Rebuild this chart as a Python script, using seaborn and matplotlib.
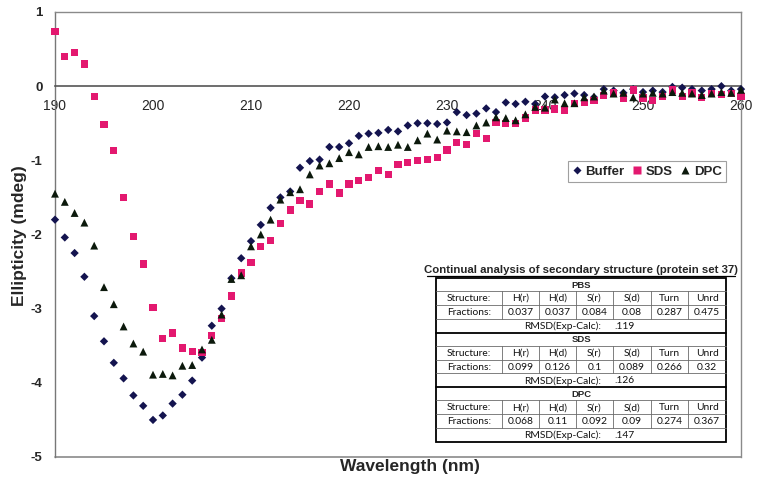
import numpy as np
import pandas as pd
import matplotlib
matplotlib.use("Agg")
import matplotlib.pyplot as plt
import seaborn as sns
from matplotlib.lines import Line2D

# -----------------------------
# DATA
# -----------------------------
wavelength = list(range(190, 261))

buffer_vals = [
    -1.80, -2.04, -2.25, -2.57, -3.10, -3.44, -3.73, -3.94, -4.17, -4.31,
    -4.50, -4.44, -4.28, -4.16, -3.97, -3.66, -3.23, -3.00, -2.59, -2.32,
    -2.09, -1.87, -1.64, -1.50, -1.42, -1.10, -1.01, -0.99, -0.82, -0.82,
    -0.77, -0.67, -0.64, -0.63, -0.59, -0.61, -0.53, -0.50, -0.50, -0.51,
    -0.49, -0.35, -0.39, -0.37, -0.30, -0.35, -0.22, -0.24, -0.21, -0.24,
    -0.14, -0.15, -0.12, -0.10, -0.12, -0.15, -0.04, -0.06, -0.09, -0.04,
    -0.08, -0.06, -0.08, -0.01, -0.02, -0.04, -0.06, -0.04, 0.00, -0.06,
    -0.04,
]

sds_vals = [
    0.74, 0.40, 0.45, 0.30, -0.14, -0.52, -0.87, -1.50, -2.03, -2.40,
    -2.98, -3.40, -3.33, -3.53, -3.58, -3.59, -3.36, -3.13, -2.83, -2.52,
    -2.38, -2.16, -2.08, -1.85, -1.67, -1.54, -1.59, -1.42, -1.32, -1.44,
    -1.32, -1.27, -1.23, -1.14, -1.19, -1.06, -1.03, -1.00, -0.99, -0.96,
    -0.86, -0.76, -0.79, -0.64, -0.71, -0.49, -0.50, -0.50, -0.43, -0.32,
    -0.32, -0.31, -0.33, -0.23, -0.22, -0.19, -0.13, -0.09, -0.16, -0.05,
    -0.16, -0.19, -0.14, -0.05, -0.14, -0.09, -0.15, -0.10, -0.11, -0.10,
    -0.14,
]

dpc_vals = [
    -1.45, -1.56, -1.71, -1.84, -2.15, -2.71, -2.94, -3.24, -3.47, -3.58,
    -3.89, -3.88, -3.90, -3.77, -3.76, -3.55, -3.42, -3.08, -2.60, -2.55,
    -2.16, -2.00, -1.80, -1.53, -1.43, -1.39, -1.19, -1.07, -1.04, -0.97,
    -0.89, -0.92, -0.82, -0.81, -0.82, -0.79, -0.82, -0.73, -0.64, -0.72,
    -0.60, -0.61, -0.62, -0.53, -0.49, -0.42, -0.43, -0.46, -0.38, -0.28,
    -0.29, -0.18, -0.23, -0.23, -0.15, -0.14, -0.06, -0.10, -0.09, -0.15,
    -0.10, -0.09, -0.10, -0.08, -0.09, -0.10, -0.12, -0.10, -0.08, -0.09,
    -0.05,
]

x_ticks = [190, 200, 210, 220, 230, 240, 250, 260]
y_ticks = [1, 0, -1, -2, -3, -4, -5]

# table content
table_title = "Continual analysis of secondary structure (protein set 37)"
samples = ["PBS", "SDS", "DPC"]
structures = ["H(r)", "H(d)", "S(r)", "S(d)", "Turn", "Unrd"]
pbs_fractions = ["0.037", "0.037", "0.084", "0.08", "0.287", "0.475"]
sds_fractions = ["0.099", "0.126", "0.1", "0.089", "0.266", "0.32"]
dpc_fractions = ["0.068", "0.11", "0.092", "0.09", "0.274", "0.367"]
rmsd_vals = [".119", ".126", ".147"]

# -----------------------------
# STYLE
# -----------------------------
sns.set_style("white")
plt.rcParams["font.family"] = ["Liberation Sans", "DejaVu Sans"]

W, H = 757, 492
fig = plt.figure(figsize=(W / 100, H / 100), dpi=100)
ax = fig.add_axes([55 / W, 1 - 457 / H, 686 / W, 445 / H])

df = pd.DataFrame({
    "Wavelength": wavelength * 3,
    "Ellipticity": buffer_vals + sds_vals + dpc_vals,
    "Sample": ["Buffer"] * len(wavelength) + ["SDS"] * len(wavelength) + ["DPC"] * len(wavelength),
})

palette = {"Buffer": "#14144f", "SDS": "#e3186f", "DPC": "#0c190c"}
markers = {"Buffer": "D", "SDS": "s", "DPC": "^"}
sizes = {"Buffer": 18, "SDS": 28, "DPC": 32}

for name in ["Buffer", "SDS", "DPC"]:
    sub = df[df["Sample"] == name]
    sns.scatterplot(data=sub, x="Wavelength", y="Ellipticity", ax=ax,
                    color=palette[name], marker=markers[name], s=sizes[name],
                    edgecolor="none", linewidth=0, legend=False, zorder=3,
                    clip_on=False)

ax.set_xlim(190, 260)
ax.set_ylim(-5, 1)
ax.set_xticks(x_ticks)
ax.set_yticks(y_ticks)
ax.set_xticklabels([str(v) for v in x_ticks], fontsize=9.5, fontweight="bold")
ax.set_yticklabels([str(v) for v in y_ticks], fontsize=9.5, fontweight="bold")

# plot area border + axis at zero
for side in ["top", "right", "left"]:
    ax.spines[side].set_color("#8a8a8a")
    ax.spines[side].set_linewidth(1.0)
ax.spines["left"].set_color("#777777")
ax.spines["bottom"].set_position(("data", 0))
ax.spines["bottom"].set_color("#555555")
ax.spines["bottom"].set_linewidth(1.2)
ax.axhline(-5, color="#8a8a8a", lw=1.2, zorder=1, clip_on=False)
ax.tick_params(axis="x", direction="out", length=3, width=0.8, color="#777777", pad=6)
ax.tick_params(axis="y", direction="out", length=4, width=0.8, color="#777777", pad=5)

ax.set_xlabel("")
ax.set_ylabel("")
fig.text(410 / W, 1 - 467 / H, "Wavelength (nm)", fontsize=12.5, fontweight="bold",
         ha="center", va="center")
fig.text(20 / W, 1 - 236 / H, "Ellipticity (mdeg)", fontsize=12.5, fontweight="bold",
         ha="center", va="center", rotation=90)

# legend
handles = [Line2D([0], [0], marker=markers[n], color="none", markerfacecolor=palette[n],
                  markeredgecolor="none", markersize={"Buffer": 4.5, "SDS": 5.5, "DPC": 6}[n])
           for n in ["Buffer", "SDS", "DPC"]]
leg = fig.legend(handles, ["Buffer", "SDS", "DPC"], ncol=3,
                 loc="center", bbox_to_anchor=(647 / W, 1 - 171.5 / H),
                 prop={"weight": "bold", "size": 9.5}, frameon=True, fancybox=False,
                 handlelength=0.7, handletextpad=0.3, columnspacing=0.6,
                 borderpad=0.3, borderaxespad=0)
leg.get_frame().set_edgecolor("#888888")
leg.get_frame().set_linewidth(0.8)

# -----------------------------
# TABLE (drawn in pixel coordinates)
# -----------------------------
def fx(x):
    return x / W


def fy(y):
    return 1 - y / H


def hline(x0, x1, y, lw=0.6, color="#6a6a6a"):
    fig.add_artist(Line2D([fx(x0), fx(x1)], [fy(y), fy(y)], lw=lw, color=color,
                          transform=fig.transFigure, zorder=7))


def vline(x, y0, y1, lw=0.6, color="#6a6a6a"):
    fig.add_artist(Line2D([fx(x), fx(x)], [fy(y0), fy(y1)], lw=lw, color=color,
                          transform=fig.transFigure, zorder=7))


cell_font = ["Lato", "DejaVu Sans"]
cell_size = 7.4
t_left, t_right, t_top, t_bottom = 436, 726, 278, 442
cols = [436, 501.7, 539, 576, 613, 650.7, 688.3, 726]

fig.text(fx(581), fy(270), table_title, fontsize=8.2, fontweight="bold",
         ha="center", va="center")
hline(427, 735, 276, lw=0.9, color="black")

fig.patches.append(plt.Rectangle((fx(t_left), fy(t_bottom)), fx(t_right) - fx(t_left),
                                 fy(t_top) - fy(t_bottom), fill=True, facecolor="white",
                                 edgecolor="black", lw=1.3, transform=fig.transFigure,
                                 zorder=5))

fractions_all = [pbs_fractions, sds_fractions, dpc_fractions]
sec_h = (t_bottom - t_top) / 3
for i, sample in enumerate(samples):
    s0 = t_top + i * sec_h
    r_head = s0 + sec_h * 0.24
    r_struct = r_head + sec_h * 0.253
    r_frac = r_struct + sec_h * 0.253
    s1 = s0 + sec_h
    if i > 0:
        hline(t_left, t_right, s0, lw=1.3, color="black")
    hline(t_left, t_right, r_head)
    hline(t_left, t_right, r_struct)
    hline(t_left, t_right, r_frac)
    for c in cols[1:-1]:
        vline(c, r_head, r_frac)
    fig.text(fx(581), fy((s0 + r_head) / 2 + 0.5), sample, fontsize=6.8, fontweight="bold",
             ha="center", va="center", zorder=8)
    row_struct = ["Structure:"] + structures
    row_frac = ["Fractions:"] + fractions_all[i]
    for j in range(7):
        cx = (cols[j] + cols[j + 1]) / 2
        fig.text(fx(cx), fy((r_head + r_struct) / 2 + 0.5), row_struct[j], fontsize=cell_size,
                 family=cell_font, ha="center", va="center", zorder=8, color="#111111")
        fig.text(fx(cx), fy((r_struct + r_frac) / 2 + 0.5), row_frac[j], fontsize=cell_size,
                 family=cell_font, ha="center", va="center", zorder=8, color="#111111")
    fig.text(fx(601), fy((r_frac + s1) / 2 + 0.5), "RMSD(Exp-Calc):", fontsize=cell_size,
             family=cell_font, ha="right", va="center", zorder=8, color="#111111")
    fig.text(fx(614), fy((r_frac + s1) / 2 + 0.5), rmsd_vals[i], fontsize=cell_size,
             family=cell_font, ha="left", va="center", zorder=8, color="#111111")

fig.savefig("out.png", dpi=100)
